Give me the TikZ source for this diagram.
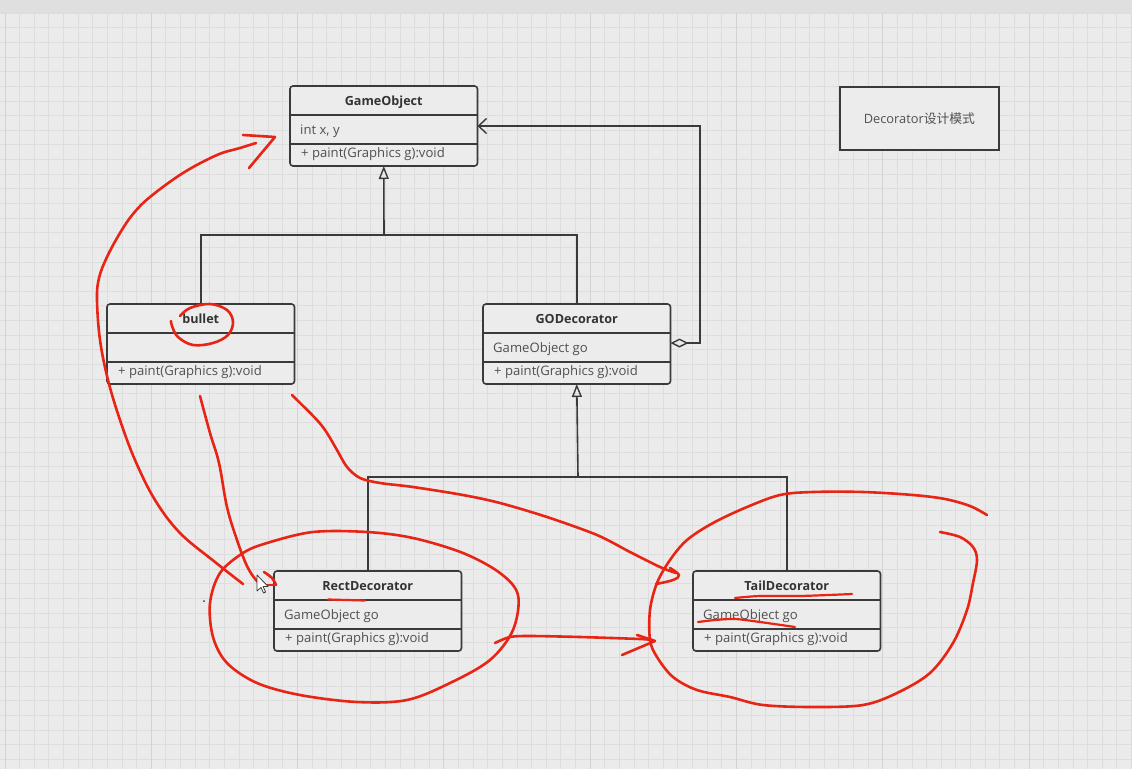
\documentclass[tikz,border=0pt]{standalone}
\usepackage{fontspec}
\setmainfont{Open Sans}
\newfontfamily\cjkfont{Noto Sans CJK SC}
\usetikzlibrary{arrows.meta}

\definecolor{canvasbg}{HTML}{EBEBEB}
\definecolor{topbar}{HTML}{DFDFDF}
\definecolor{gridminor}{HTML}{DDDDDD}
\definecolor{gridmajor}{HTML}{D3D3D3}
\definecolor{umlline}{HTML}{3A3A3A}
\definecolor{umlfill}{HTML}{ECECEC}
\definecolor{umltext}{HTML}{505050}
\definecolor{umltitle}{HTML}{333333}
\definecolor{pen}{RGB}{232,36,20}

\tikzset{
  classbox/.style={draw=umlline, fill=umlfill, line width=1.6pt, rounded corners=3pt,
    minimum width=187.5pt, minimum height=80pt, inner sep=0pt, outer sep=0pt, anchor=north west},
  divider/.style={draw=umlline, line width=1.4pt},
  titletext/.style={font=\fontsize{12.6}{14}\selectfont\bfseries, text=umltitle, inner sep=0pt, anchor=base},
  membertext/.style={font=\fontsize{13.1}{15}\selectfont, text=umltext, inner sep=0pt, anchor=base west},
  link/.style={draw=umlline, line width=1.6pt},
  redpen/.style={draw=pen, line width=2.6pt, line cap=round, line join=round},
  minorline/.style={draw=gridminor, line width=1pt},
  majorline/.style={draw=gridmajor, line width=1pt},
}

% UML class: #1 name, #2 left, #3 top, #4 title, #5 attribute, #6 method
\newcommand\umlclass[6]{%
  \node[classbox] (#1) at (#2,#3) {};
  \draw[divider] ([yshift=-29pt]#1.north west) -- ([yshift=-29pt]#1.north east);
  \draw[divider] ([yshift=-58pt]#1.north west) -- ([yshift=-58pt]#1.north east);
  \node[titletext] (#1-title) at ([yshift=-19.5pt]#1.north) {#4};
  \node[membertext] (#1-attr) at ([xshift=10pt,yshift=-48.5pt]#1.north west) {#5};
  \node[membertext] (#1-op) at ([xshift=11pt,yshift=-71pt]#1.north west) {#6};
}

\begin{document}
\begin{tikzpicture}[x=1pt,y=-1pt]
  \useasboundingbox (0,0) rectangle (1132,769);
  \fill[canvasbg] (0,0) rectangle (1132,769);

  % drawing grid
  \foreach \i in {0,...,77} {
    \pgfmathsetmacro\gx{5+14.63*\i}
    \draw[minorline] (\gx,13) -- (\gx,769);
  }
  \foreach \j in {0,...,51} {
    \pgfmathsetmacro\gy{13.3+14.63*\j}
    \draw[minorline] (0,\gy) -- (1132,\gy);
  }
  \foreach \i in {0,10,...,70} {
    \pgfmathsetmacro\gx{5+14.63*\i}
    \draw[majorline] (\gx,13) -- (\gx,769);
  }
  \fill[topbar] (0,0) rectangle (1132,13);

  % classes
  \umlclass{gameobj}{290}{86}{GameObject}{int x, y}{+ paint(Graphics g):void}
  \umlclass{bullet}{107}{304}{bullet}{}{+ paint(Graphics g):void}
  \umlclass{god}{483}{304}{GODecorator}{GameObject go}{+ paint(Graphics g):void}
  \umlclass{rect}{274}{571}{RectDecorator}{GameObject go}{+ paint(Graphics g):void}
  \umlclass{tail}{693}{571}{TailDecorator}{GameObject go}{+ paint(Graphics g):void}

  % title note
  \node[draw=umlline, fill=umlfill, line width=1.8pt, minimum width=159pt, minimum height=63pt,
        inner sep=0pt, anchor=north west,
        font=\fontsize{12.8}{14}\selectfont, text=umltext] (note) at (839,86)
        {Decorator{\cjkfont 设计模式}};

  % generalisation to GameObject
  \coordinate (hubTop) at (384,235);
  \draw[link] (bullet.north) |- (hubTop) -| (god.north);
  \draw[link, -{Triangle[open, length=13pt, width=10pt, line width=1.4pt]}] (hubTop) -- (gameobj.south);

  % generalisation to GODecorator
  \coordinate (hubLow) at (578,477);
  \draw[link] (rect.north) |- (hubLow) -| (tail.north);
  \draw[link, -{Triangle[open, length=13pt, width=10pt, line width=1.4pt]}] (hubLow) -- (god.south);

  % aggregation GODecorator -> GameObject
  \coordinate (aggY) at (0,343);
  \coordinate (aggX) at (700,126);
  \draw[link, {Diamond[open, length=18pt, width=9pt, line width=1.4pt]}-{Straight Barb[length=8pt, width=15pt, line width=1.4pt]}]
    (god.east |- aggY) -- (aggX |- aggY) -- (aggX) -- (gameobj.east |- aggX);

  % pen annotations
  % long arc back up to GameObject
  \draw[redpen] plot[smooth, tension=0.6] coordinates {
    (243,584) (215,562) (180,533) (155,500) (135,460) (120,420) (108,380) (100,340)
    (97,300) (99,278) (107,257) (120,233) (133,214) (150,197) (183,173) (217,155) (240,148) (256,143)};
  \draw[redpen] (243,135) -- (275,137) -- (249,168);

  % bullet circled
  \draw[redpen] plot[smooth, tension=0.6] coordinates {
    (180,316) (190,308) (210,304) (227,310) (233,322) (228,335) (213,343) (193,345) (178,337) (172,326) (171,321)};

  % bullet down to RectDecorator
  \draw[redpen] plot[smooth, tension=0.6] coordinates {
    (200,396) (210,433) (219,463) (227,507) (237,540) (247,566) (256,580) (262,584)};
  \draw[redpen] plot[smooth, tension=0.6] coordinates {(264,572) (272,578) (276,585)};
  \draw[redpen] (263,585) -- (276,585);

  % bullet across to TailDecorator
  \draw[redpen] plot[smooth, tension=0.5] coordinates {
    (292,395) (317,420) (327,433) (337,450) (347,467) (360,478) (380,483) (413,487)
    (463,495) (500,503) (547,517) (597,535) (630,552) (660,567) (676,573)};
  \draw[redpen] plot[smooth, tension=0.6] coordinates {(670,568) (679,575) (673,580) (656,584)};

  % ring round RectDecorator
  \draw[redpen] plot[smooth cycle, tension=0.55] coordinates {
    (220,573) (243,553) (267,543) (313,532) (367,532) (413,538) (463,553) (500,573)
    (518,595) (513,630) (490,660) (450,683) (407,700) (357,702) (300,695) (257,683)
    (227,663) (213,637) (210,603)};

  % RectDecorator on to TailDecorator
  \draw[redpen] plot[smooth, tension=0.5] coordinates {
    (495,643) (510,637) (530,636) (580,637) (640,639) (652,640)};
  \draw[redpen] (637,635) -- (655,641) -- (622,655);

  % ring round TailDecorator
  \draw[redpen] plot[smooth, tension=0.55] coordinates {
    (987,515) (970,506) (945,499) (913,495) (863,492) (813,492) (780,495) (747,507) (713,523)
    (687,540) (670,560) (657,583) (650,610) (650,640) (657,657) (673,677) (697,690)
    (730,697) (763,705) (813,707) (863,705) (897,693) (930,673) (953,643) (967,610)
    (973,583) (977,560) (973,547) (960,537) (940,532)};

  % underlines
  \draw[redpen, line width=2.2pt] (328,599.5) -- (365,600.5);
  \draw[redpen, line width=2.2pt] plot[smooth, tension=0.5] coordinates {(735,598) (760,596) (800,596) (852,594)};
  \draw[redpen, line width=2.2pt] plot[smooth, tension=0.5] coordinates {(698,622) (715,620) (735,619) (760,622) (795,627)};

  % stray dot
  \fill[umlline] (204,601) circle (1pt);

  % mouse pointer
  \draw[fill=white, draw=umlline, line width=0.8pt, line join=round]
    (257,575) -- ++(0,16) -- ++(4,-3.5) -- ++(2.6,5.5) -- ++(2,-1) -- ++(-2.5,-5.5) -- ++(5,0) -- cycle;
\end{tikzpicture}
\end{document}
